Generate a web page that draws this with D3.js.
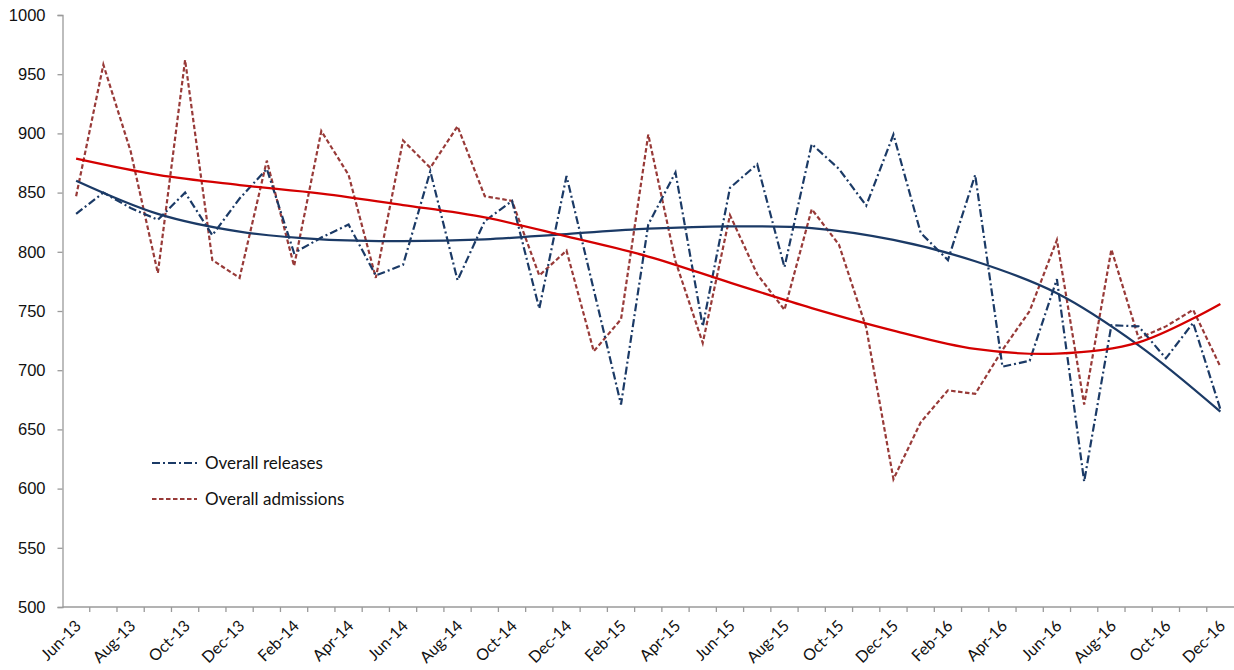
<!DOCTYPE html>
<html>
<head>
<meta charset="utf-8">
<script src="https://cdn.jsdelivr.net/npm/d3@7"></script>
<style>
  body { margin: 0; background: #fff; }
  svg { display: block; font-family: Lato, "Open Sans", sans-serif; }
</style>
</head>
<body>
<svg id="chart" width="1234" height="670"></svg>
<script>
const width = 1234;
const height = 670;
const margin = { top: 15, right: 0, bottom: 63, left: 62.5 };

const months = [
  "Jun-13","Jul-13","Aug-13","Sep-13","Oct-13","Nov-13","Dec-13",
  "Jan-14","Feb-14","Mar-14","Apr-14","May-14","Jun-14","Jul-14","Aug-14","Sep-14","Oct-14","Nov-14","Dec-14",
  "Jan-15","Feb-15","Mar-15","Apr-15","May-15","Jun-15","Jul-15","Aug-15","Sep-15","Oct-15","Nov-15","Dec-15",
  "Jan-16","Feb-16","Mar-16","Apr-16","May-16","Jun-16","Jul-16","Aug-16","Sep-16","Oct-16","Nov-16","Dec-16"
];

// monthly values
const releases = [
  832, 850, 837, 827, 850, 814, 845, 870, 799, 812, 823, 780, 789,
  868, 776, 826, 843, 752, 864, 768, 671, 823, 867, 737, 854, 874,
  787, 891, 870, 839, 899, 816, 793, 865, 703, 708, 777, 606, 738,
  737, 710, 740, 667
];
const admissions = [
  847, 958, 885, 782, 962, 793, 778, 877, 788, 902, 865, 778, 894,
  871, 906, 847, 843, 780, 801, 716, 743, 899, 792, 723, 831, 781,
  751, 836, 806, 736, 608, 656, 683, 680, 717, 750, 810, 671, 802,
  727, 737, 751, 703
];

// trend lines, sampled every third month
const trendIdx = [0, 3, 6, 9, 12, 15, 18, 21, 24, 27, 30, 33, 36, 39, 42];
const releasesTrend = [860, 832, 817, 810.5, 809, 810.5, 815, 819.5, 821.5, 820, 810, 792, 765, 721, 665];
const admissionsTrend = [878.7, 865, 856.4, 849.2, 839.5, 829, 813, 796, 774, 752.5, 733.5, 718, 714, 723.5, 756];

const yTicks = [500, 550, 600, 650, 700, 750, 800, 850, 900, 950, 1000];

const navy = "#1b3a66";
const darkRed = "#983a38";
const brightRed = "#d40000";
const axisGrey = "#9a9a9a";

const svg = d3.select("#chart");

const x = d3.scaleBand()
  .domain(months)
  .range([margin.left, width - margin.right])
  .padding(0);

const y = d3.scaleLinear()
  .domain([500, 1000])
  .range([height - margin.bottom, margin.top]);

const cx = i => x(months[i]) + x.bandwidth() / 2;

// y axis
const yAxis = svg.append("g")
  .attr("transform", `translate(${margin.left},0)`)
  .call(d3.axisLeft(y).tickValues(yTicks).tickSize(5).tickPadding(12).tickFormat(d3.format("d")));
yAxis.select(".domain").attr("stroke", axisGrey).attr("stroke-width", 1.3);
yAxis.selectAll(".tick line").attr("stroke", axisGrey).attr("stroke-width", 1.3);
yAxis.selectAll("text")
  .attr("fill", "#111")
  .style("font-size", "16.5px");

// x axis: ticks between categories
const x0 = height - margin.bottom;
const xAxis = svg.append("g");
xAxis.append("line")
  .attr("x1", margin.left).attr("x2", width - margin.right)
  .attr("y1", x0).attr("y2", x0)
  .attr("stroke", axisGrey).attr("stroke-width", 1.3);
xAxis.selectAll(".xt")
  .data(months.slice(1))
  .join("line")
  .attr("class", "xt")
  .attr("x1", d => x(d)).attr("x2", d => x(d))
  .attr("y1", x0).attr("y2", x0 + 5)
  .attr("stroke", axisGrey).attr("stroke-width", 1.3);
xAxis.selectAll(".xl")
  .data(months.filter((d, i) => i % 2 === 0))
  .join("text")
  .attr("class", "xl")
  .attr("transform", d => `translate(${x(d) + x.bandwidth() / 2 + 2},${x0 + 16}) rotate(-45)`)
  .attr("text-anchor", "end")
  .attr("dy", "0.35em")
  .attr("fill", "#111")
  .style("font-size", "16px")
  .text(d => d);

// series
const line = d3.line()
  .x((d, i) => cx(i))
  .y(d => y(d));

svg.append("path")
  .datum(admissions)
  .attr("d", line)
  .attr("fill", "none")
  .attr("stroke", darkRed)
  .attr("stroke-width", 2.2)
  .attr("stroke-dasharray", "4.5,2.5");

svg.append("path")
  .datum(releases)
  .attr("d", line)
  .attr("fill", "none")
  .attr("stroke", navy)
  .attr("stroke-width", 2.2)
  .attr("stroke-dasharray", "8,3,2,3");

// trend lines
const trendLine = d3.line()
  .x((d, i) => cx(trendIdx[i]))
  .y(d => y(d))
  .curve(d3.curveCatmullRom.alpha(0.5));

svg.append("path")
  .datum(releasesTrend)
  .attr("d", trendLine)
  .attr("fill", "none")
  .attr("stroke", navy)
  .attr("stroke-width", 2.3);

svg.append("path")
  .datum(admissionsTrend)
  .attr("d", trendLine)
  .attr("fill", "none")
  .attr("stroke", brightRed)
  .attr("stroke-width", 2.3);

// legend
const legendItems = [
  { label: "Overall releases", color: navy, dash: "8,3,2,3" },
  { label: "Overall admissions", color: darkRed, dash: "4.5,2.5" }
];
const legend = svg.append("g").attr("transform", "translate(152,463)");
legendItems.forEach((item, i) => {
  const g = legend.append("g").attr("transform", `translate(0,${i * 36})`);
  g.append("line")
    .attr("x1", 0).attr("x2", 45)
    .attr("stroke", item.color)
    .attr("stroke-width", 2.2)
    .attr("stroke-dasharray", item.dash);
  g.append("text")
    .attr("x", 53)
    .attr("dy", "0.35em")
    .attr("fill", "#111")
    .style("font-size", "17px")
    .text(item.label);
});
</script>
</body>
</html>
